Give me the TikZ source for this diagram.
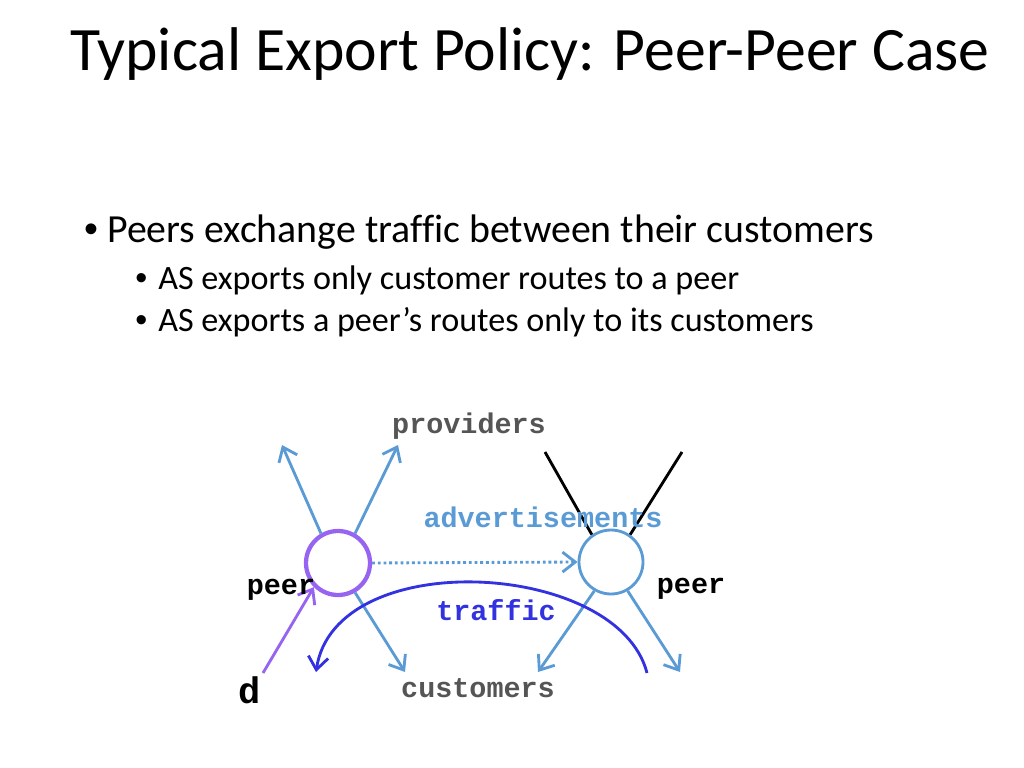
\documentclass[tikz,border=0pt]{standalone}
\usepackage{fontspec}
\setmainfont{Carlito}[Ligatures=NoCommon]
\setmonofont{Liberation Mono}
\newfontfamily\bulletfont{Liberation Sans}
\usetikzlibrary{arrows.meta}
\definecolor{advblue}{RGB}{91,155,213}
\definecolor{peerpurple}{RGB}{150,100,240}
\definecolor{trafblue}{RGB}{50,50,225}
\definecolor{labgray}{RGB}{85,85,85}
\tikzset{
  txt/.style={inner sep=0pt, anchor=base west},
  bul/.style={inner sep=0pt, anchor=base west, font=\bulletfont},
  lab/.style={inner sep=0pt, font=\fontsize{20}{24}\ttfamily\bfseries},
  advarrow/.style={draw=advblue, line width=2pt, -{Straight Barb[length=9pt,width=14pt,line width=2pt]}},
  asnode/.style={circle, minimum size=#1, inner sep=0pt},
}
\begin{document}
\begin{tikzpicture}[x=0.703125pt,y=-0.703125pt]
\useasboundingbox (0,0) rectangle (1024,768);
\node[txt, font=\fontsize{43.4}{52}\selectfont] (title) at (70,70.5) {Typical Export Policy: Peer-Peer Case};
\node[bul, font=\fontsize{28}{34}\bulletfont] (bu1) at (84,243) {•};
\node[txt, font=\fontsize{28}{34}\selectfont] (b1) at (107,243) {Peers exchange traffic between their customers};
\node[bul, font=\fontsize{24}{29}\bulletfont] (bu2) at (135,289) {•};
\node[txt, font=\fontsize{24}{29}\selectfont] (b2) at (158,289) {AS exports only customer routes to a peer};
\node[bul, font=\fontsize{24}{29}\bulletfont] (bu3) at (135,332) {•};
\node[txt, font=\fontsize{24}{29}\selectfont] (b3) at (158,332) {AS exports a peer’s routes only to its customers};

% AS circles
\node[asnode=64pt*0.703125, draw=peerpurple, line width=3pt] (L) at (338,563) {};
\node[asnode=64pt*0.703125, draw=advblue, line width=2pt] (R) at (611,562) {};

% arrow endpoints
\coordinate (lul) at (282,445);
\coordinate (lur) at (398,445);
\coordinate (ldr) at (405,672);
\coordinate (rdl) at (538,672);
\coordinate (rdr) at (680,672);
\coordinate (rul) at (545,452);
\coordinate (rur) at (682,452);
\coordinate (dsrc) at (263,673);
\coordinate (tstart) at (647,673);
\coordinate (tend) at (316,672);

\draw[advarrow] (L.120) -- (lul);
\draw[advarrow] (L.60) -- (lur);
\draw[advarrow] (L.-60) -- (ldr);
\draw[advarrow] (R.-120) -- (rdl);
\draw[advarrow] (R.-60) -- (rdr);
\draw[black, line width=2pt] (rul) -- (R.125);
\draw[black, line width=2pt] (rur) -- (R.55);
\draw[advblue, line width=2pt, dotted, -{Straight Barb[length=9pt,width=14pt,line width=2pt]}] (L.east) -- (R.west);
\draw[peerpurple, line width=2pt, -{Straight Barb[length=9pt,width=14pt,line width=2pt]}] (dsrc) -- (L.-135);
\draw[trafblue, line width=2pt, -{Straight Barb[length=9pt,width=14pt,line width=2pt]}] (tstart) .. controls (618,560) and (335,545) .. (tend);

% labels
\node[lab, text=labgray] (prov) at (469,426) {providers};
\node[lab, text=advblue] (adv) at (543,517) {advertisements};
\node[lab, text=black] (pl) at (281,590) {peer};
\node[lab, text=black] (pr) at (691,589) {peer};
\node[lab, text=trafblue] (traf) at (496,610) {traffic};
\node[lab, text=labgray] (cust) at (478,688) {customers};
\node[lab, text=black, font=\fontsize{26}{30}\ttfamily\bfseries] (d) at (250,690) {d};
\end{tikzpicture}
\end{document}
